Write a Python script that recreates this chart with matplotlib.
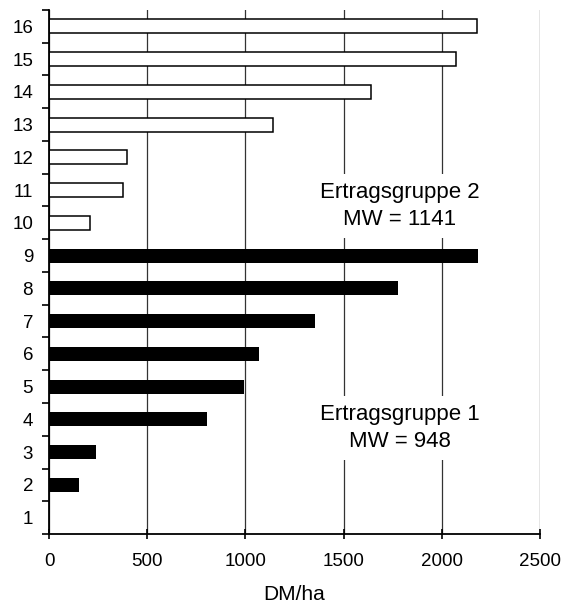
import numpy as np
import matplotlib
matplotlib.use("Agg")
import matplotlib.pyplot as plt

plt.rcParams['font.family'] = ['Liberation Sans', 'DejaVu Sans']

# Ertragsgruppe 1: Nr. 1-9, Ertragsgruppe 2: Nr. 10-16
nr_g1 = [1, 2, 3, 4, 5, 6, 7, 8, 9]
dm_g1 = [0, 153, 241, 803, 993, 1071, 1353, 1779, 2186]
nr_g2 = [10, 11, 12, 13, 14, 15, 16]
dm_g2 = [207, 377, 397, 1142, 1638, 2072, 2178]
mw_g1 = 948
mw_g2 = 1141

fig = plt.figure(figsize=(5.64, 6.08), dpi=100)
ax = fig.add_axes([0.0869, 0.1217, 0.8705, 0.8619])

ax.barh(nr_g1, dm_g1, height=0.43, color='black', linewidth=0, zorder=2)
ax.barh(nr_g2, dm_g2, height=0.43, color='white', edgecolor='black', linewidth=1.1, zorder=2)

ax.set_xlim(0, 2500)
ax.set_ylim(0.5, 16.5)
ax.set_xticks(np.arange(0, 2501, 500))
ax.xaxis.grid(True, color='#333333', linewidth=0.9)
ax.set_axisbelow(True)

# Teilstriche zwischen den Nummern, Beschriftung in der Mitte
ax.set_yticks(np.arange(0.5, 16.6, 1))
ax.set_yticklabels([])
ax.set_yticks(np.arange(1, 17), minor=True)
ax.set_yticklabels([str(i) for i in range(1, 17)], minor=True, fontsize=13.5)
ax.tick_params(axis='y', which='major', direction='out', length=5, width=1.2)
ax.tick_params(axis='y', which='minor', length=0, pad=11.5)
ax.tick_params(axis='x', direction='inout', length=7, width=1.2, labelsize=13.5, pad=10)

for s in ['top', 'right']:
    ax.spines[s].set_visible(False)
for s in ['left', 'bottom']:
    ax.spines[s].set_linewidth(1.3)

ax.set_xlabel('DM/ha', fontsize=15, labelpad=11)

box = dict(facecolor='white', edgecolor='none', pad=6)
ax.text(1787, 10.52, 'Ertragsgruppe 2\nMW = %d' % mw_g2, ha='center', va='center',
        fontsize=16, linespacing=1.35, bbox=box, zorder=3)
ax.text(1787, 3.74, 'Ertragsgruppe 1\nMW = %d' % mw_g1, ha='center', va='center',
        fontsize=16, linespacing=1.35, bbox=box, zorder=3)

fig.savefig('out.png', dpi=100)
